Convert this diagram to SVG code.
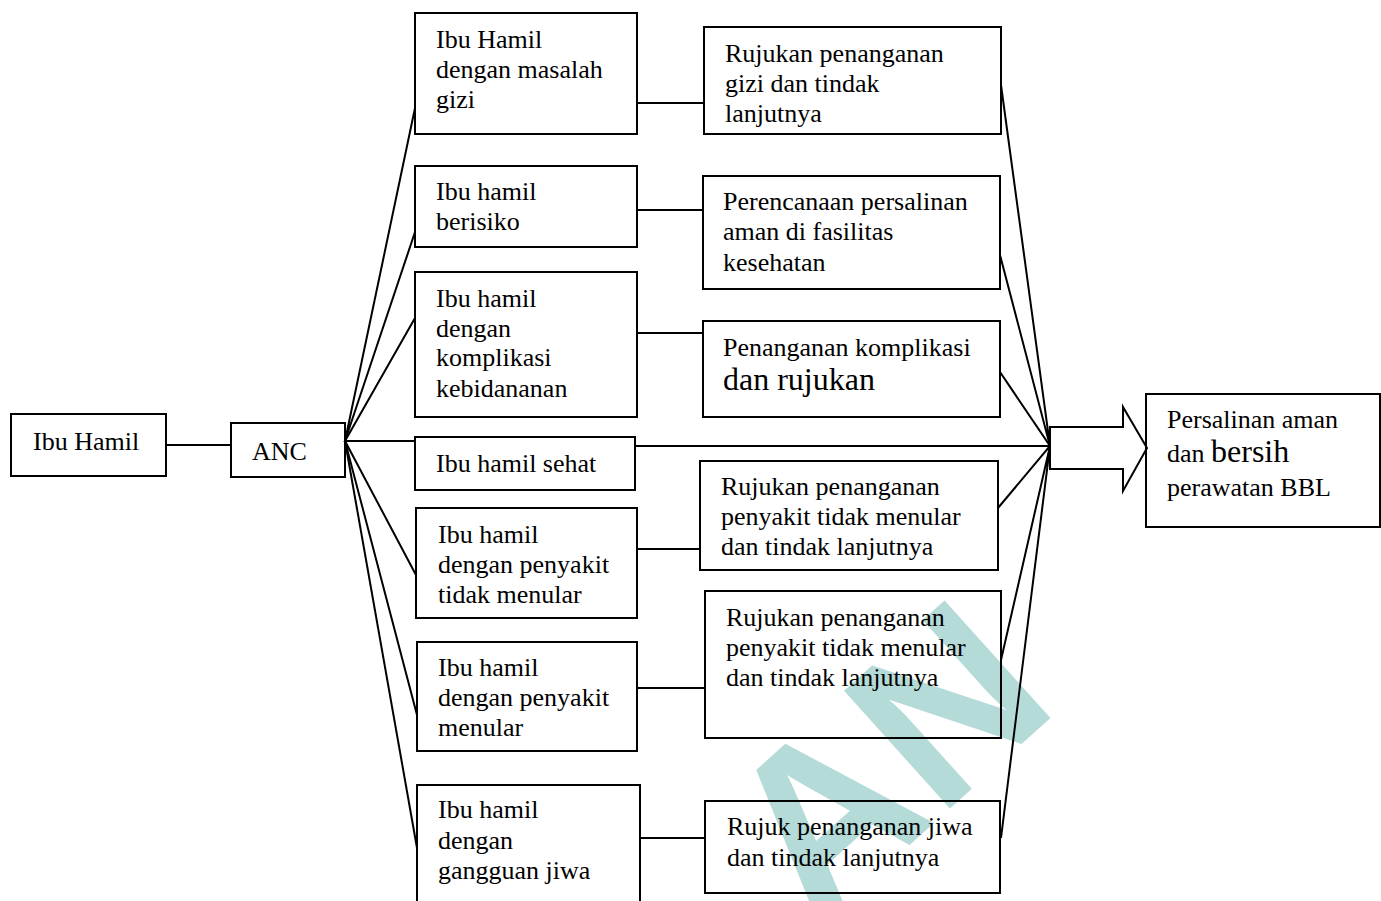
<svg xmlns="http://www.w3.org/2000/svg" width="1381" height="901" viewBox="0 0 1381 901">
<style>
.box{fill:none;stroke:#000;stroke-width:2}
.arr{fill:#fff;stroke:#000;stroke-width:2}
.ln{stroke:#000;stroke-width:2;fill:none}
text{font-family:"Liberation Serif","Times New Roman",serif;font-size:26px;fill:#000}
.big{font-size:32px}
.wm{font-family:"Liberation Sans",Arial,sans-serif;font-weight:bold;font-size:230px;fill:#b5dbd9}
</style>
<rect width="1381" height="901" fill="#fff"/>
<g id="watermark"><text class="wm" transform="translate(815,930) rotate(-42)">AN</text></g>
<g id="connectors">
<line class="ln" x1="166" y1="445" x2="231" y2="445"/>
<polyline class="ln" points="415,108 345,441 415,232"/>
<polyline class="ln" points="415,318 345,441 415,441"/>
<polyline class="ln" points="416,575 345,441 417,715"/>
<polyline class="ln" points="345,441 417,848"/>
<line class="ln" x1="637" y1="103" x2="704" y2="103"/>
<line class="ln" x1="637" y1="210" x2="703" y2="210"/>
<line class="ln" x1="637" y1="333" x2="703" y2="333"/>
<line class="ln" x1="637" y1="549" x2="700" y2="549"/>
<line class="ln" x1="637" y1="688" x2="705" y2="688"/>
<line class="ln" x1="640" y1="838" x2="705" y2="838"/>
<line class="ln" x1="635" y1="446" x2="1050" y2="446"/>
<polyline class="ln" points="1001,85 1050,446 1000,255"/>
<polyline class="ln" points="1000,372 1050,446 998,508"/>
<polyline class="ln" points="1001,660 1050,446 1001,838"/>
<polygon class="arr" points="1050,427 1123,427 1123,407 1147,448 1123,491 1123,469 1050,469"/>
</g>
<g id="n-ibuhamil"><rect class="box" x="11" y="414" width="155" height="62"/><text x="33" y="450">Ibu Hamil</text></g>
<g id="n-anc"><rect class="box" x="231" y="423" width="114" height="54"/><text x="252" y="460">ANC</text></g>
<g id="n-gizi"><rect class="box" x="415" y="13" width="222" height="121"/><text x="436" y="48">Ibu Hamil</text><text x="436" y="78">dengan masalah</text><text x="436" y="108">gizi</text></g>
<g id="n-berisiko"><rect class="box" x="415" y="166" width="222" height="81"/><text x="436" y="200">Ibu hamil</text><text x="436" y="230">berisiko</text></g>
<g id="n-komplikasi"><rect class="box" x="415" y="272" width="222" height="145"/><text x="436" y="307">Ibu hamil</text><text x="436" y="337">dengan</text><text x="436" y="366">komplikasi</text><text x="436" y="397">kebidananan</text></g>
<g id="n-sehat"><rect class="box" x="415" y="437" width="220" height="53"/><text x="436" y="472">Ibu hamil sehat</text></g>
<g id="n-ptm"><rect class="box" x="416" y="508" width="221" height="110"/><text x="438" y="543">Ibu hamil</text><text x="438" y="573">dengan penyakit</text><text x="438" y="603">tidak menular</text></g>
<g id="n-pm"><rect class="box" x="417" y="642" width="220" height="109"/><text x="438" y="676">Ibu hamil</text><text x="438" y="706">dengan penyakit</text><text x="438" y="736">menular</text></g>
<g id="n-jiwa"><rect class="box" x="417" y="785" width="223" height="130"/><text x="438" y="818">Ibu hamil</text><text x="438" y="849">dengan</text><text x="438" y="879">gangguan jiwa</text></g>
<g id="r-gizi"><rect class="box" x="704" y="27" width="297" height="107"/><text x="725" y="62">Rujukan penanganan</text><text x="725" y="92">gizi dan tindak</text><text x="725" y="122">lanjutnya</text></g>
<g id="r-berisiko"><rect class="box" x="703" y="176" width="297" height="113"/><text x="723" y="210">Perencanaan persalinan</text><text x="723" y="240">aman di fasilitas</text><text x="723" y="271">kesehatan</text></g>
<g id="r-komplikasi"><rect class="box" x="703" y="321" width="297" height="96"/><text x="723" y="356">Penanganan komplikasi</text><text x="723" y="390" class="big">dan rujukan</text></g>
<g id="r-ptm"><rect class="box" x="700" y="461" width="298" height="109"/><text x="721" y="495">Rujukan penanganan</text><text x="721" y="525">penyakit tidak menular</text><text x="721" y="555">dan tindak lanjutnya</text></g>
<g id="r-pm"><rect class="box" x="705" y="591" width="296" height="147"/><text x="726" y="626">Rujukan penanganan</text><text x="726" y="656">penyakit tidak menular</text><text x="726" y="686">dan tindak lanjutnya</text></g>
<g id="r-jiwa"><rect class="box" x="705" y="801" width="295" height="92"/><text x="727" y="835">Rujuk penanganan jiwa</text><text x="727" y="866">dan tindak lanjutnya</text></g>
<g id="n-persalinan"><rect class="box" x="1146" y="394" width="234" height="133"/><text x="1167" y="428">Persalinan aman</text><text x="1167" y="462">dan <tspan class="big">bersih</tspan></text><text x="1167" y="496">perawatan BBL</text></g>
</svg>
